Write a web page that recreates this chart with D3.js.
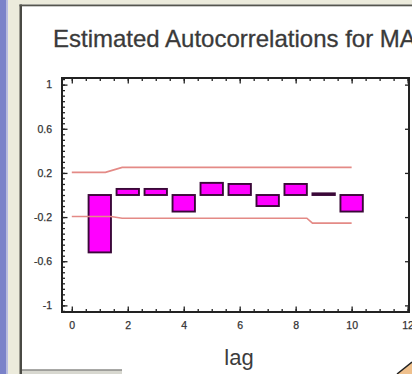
<!DOCTYPE html>
<html>
<head>
<meta charset="utf-8">
<script src="https://cdn.jsdelivr.net/npm/d3@7"></script>
<style>
  html, body { margin: 0; padding: 0; background: #ffffff; overflow: hidden; }
  svg { display: block; }
</style>
</head>
<body>
<svg id="chart" width="412" height="374"></svg>
<script>
// ---- data ----
const titleText = "Estimated Autocorrelations for MA";
const xAxisTitle = "lag";
const lags = [1, 2, 3, 4, 5, 6, 7, 8, 9, 10];
const acf = [-0.52, 0.055, 0.055, -0.15, 0.11, 0.10, -0.10, 0.10, 0.015, -0.15];
const upperLags = [0, 1.2, 1.8, 10];
const upperLimit = [0.205, 0.205, 0.25, 0.25];
const lowerLags = [0, 1.4, 1.8, 8.4, 8.6, 10];
const lowerLimit = [-0.195, -0.195, -0.21, -0.21, -0.255, -0.255];
const yTickValues = [1, 0.6, 0.2, -0.2, -0.6, -1];
const yTickLabels = ["1", "0.6", "0.2", "-0.2", "-0.6", "-1"];
const xTickValues = [0, 2, 4, 6, 8, 10, 12];
const xTickLabels = ["0", "2", "4", "6", "8", "10", "12"];

// ---- layout ----
const svg = d3.select("#chart");
const W = 412, H = 374;
const plot = { left: 62, right: 409, top: 78, bottom: 312 };

const x = d3.scaleLinear().domain([-0.35, 12.05]).range([plot.left, plot.right]);
const y = d3.scaleLinear().domain([-1.06, 1.06]).range([plot.bottom, plot.top]);

// window chrome (screenshot frame)
svg.append("rect").attr("x", 0).attr("y", 0).attr("width", W).attr("height", H).attr("fill", "#ffffff");
svg.append("rect").attr("x", 0).attr("y", 0).attr("width", W).attr("height", 4.5).attr("fill", "#ecebdc");
svg.append("rect").attr("x", 0).attr("y", 0).attr("width", 20).attr("height", H).attr("fill", "#ecebdc");
svg.append("rect").attr("x", 0).attr("y", 0).attr("width", 6.5).attr("height", H).attr("fill", "#7a82c9");
svg.append("rect").attr("x", 6.5).attr("y", 0).attr("width", 1.5).attr("height", H).attr("fill", "#b9bde3");
svg.append("rect").attr("x", 19.5).attr("y", 4.5).attr("width", 2.5).attr("height", H).attr("fill", "#4a4a44");
svg.append("rect").attr("x", 19.5).attr("y", 4.5).attr("width", W).attr("height", 1.8).attr("fill", "#55554e");
svg.append("rect").attr("x", 22).attr("y", 369.5).attr("width", 100).attr("height", 5).attr("fill", "#d8d8d0");
svg.append("line").attr("x1", 22).attr("x2", 122).attr("y1", 370).attr("y2", 370).attr("stroke", "#666").attr("stroke-width", 1.2);
svg.append("polygon").attr("points", "397,374 412,362 412,374").attr("fill", "#efc08c");
svg.append("line").attr("x1", 397).attr("y1", 374).attr("x2", 412).attr("y2", 362).attr("stroke", "#222").attr("stroke-width", 1.5);

// title
svg.append("text")
  .attr("x", 53).attr("y", 47)
  .attr("font-family", "Liberation Sans, Arial, sans-serif")
  .attr("font-size", 24)
  .attr("fill", "#3a3a3a")
  .attr("stroke", "#3a3a3a").attr("stroke-width", 0.3)
  .text(titleText);

// bars
svg.append("g").selectAll("rect")
  .data(lags.map((l, i) => ({ lag: l, v: acf[i] })))
  .join("rect")
  .attr("x", d => x(d.lag - 0.4))
  .attr("width", d => x(d.lag + 0.4) - x(d.lag - 0.4))
  .attr("y", d => y(Math.max(0, d.v)))
  .attr("height", d => Math.max(1, Math.abs(y(d.v) - y(0))))
  .attr("fill", "#ff00ff")
  .attr("stroke", "#3a0838")
  .attr("stroke-width", 1.9);

// probability limits
const line = d3.line().x(d => x(d[0])).y(d => y(d[1]));
svg.append("path")
  .datum(upperLags.map((l, i) => [l, upperLimit[i]]))
  .attr("d", line).attr("fill", "none")
  .attr("stroke", "#e48a86").attr("stroke-width", 1.6);
svg.append("path")
  .datum(lowerLags.map((l, i) => [l, lowerLimit[i]]))
  .attr("d", line).attr("fill", "none")
  .attr("stroke", "#e48a86").attr("stroke-width", 1.6);

// axes: minor + major ticks, pointing inward
const yMinor = d3.range(-1.05, 1.0501, 0.05).map(v => +v.toFixed(2));
const xMinor = d3.range(0, 12.001, 0.5);
const axisColor = "#222";

function styleAxis(g) {
  g.select(".domain").remove();
  g.selectAll("line").attr("stroke", axisColor).attr("stroke-width", 1.3);
}

svg.append("g").attr("transform", `translate(${plot.left},0)`)
  .call(d3.axisLeft(y).tickValues(yMinor).tickSize(-3).tickFormat(""))
  .call(styleAxis);
svg.append("g").attr("transform", `translate(${plot.left},0)`)
  .call(d3.axisLeft(y).tickValues(yTickValues).tickSize(-5.5).tickFormat(""))
  .call(styleAxis);
svg.append("g").attr("transform", `translate(${plot.right},0)`)
  .call(d3.axisRight(y).tickValues(yTickValues).tickSize(-4).tickFormat(""))
  .call(styleAxis);
svg.append("g").attr("transform", `translate(0,${plot.bottom})`)
  .call(d3.axisBottom(x).tickValues(xMinor).tickSize(-3).tickFormat(""))
  .call(styleAxis);
svg.append("g").attr("transform", `translate(0,${plot.bottom})`)
  .call(d3.axisBottom(x).tickValues(xTickValues).tickSize(-5.5).tickFormat(""))
  .call(styleAxis);
svg.append("g").attr("transform", `translate(0,${plot.top})`)
  .call(d3.axisTop(x).tickValues(xMinor).tickSize(-3).tickFormat(""))
  .call(styleAxis);
svg.append("g").attr("transform", `translate(0,${plot.top})`)
  .call(d3.axisTop(x).tickValues(xTickValues).tickSize(-5.5).tickFormat(""))
  .call(styleAxis);

// frame
svg.append("rect")
  .attr("x", plot.left).attr("y", plot.top)
  .attr("width", plot.right - plot.left).attr("height", plot.bottom - plot.top)
  .attr("fill", "none").attr("stroke", axisColor).attr("stroke-width", 2);

// tick labels
const yLab = d3.axisLeft(y).tickValues(yTickValues).tickSize(0).tickPadding(10)
  .tickFormat((d, i) => yTickLabels[i]);
svg.append("g").attr("transform", `translate(${plot.left},0)`)
  .call(yLab)
  .call(g => g.select(".domain").remove())
  .call(g => g.selectAll("text")
    .attr("font-family", "Liberation Sans, Arial, sans-serif")
    .attr("font-size", 10.5).attr("fill", "#333")
    .attr("stroke", "#333").attr("stroke-width", 0.25));

const xLab = d3.axisBottom(x).tickValues(xTickValues).tickSize(0).tickPadding(10)
  .tickFormat((d, i) => xTickLabels[i]);
svg.append("g").attr("transform", `translate(0,${plot.bottom})`)
  .call(xLab)
  .call(g => g.select(".domain").remove())
  .call(g => g.selectAll("text")
    .attr("font-family", "Liberation Sans, Arial, sans-serif")
    .attr("font-size", 10.5).attr("fill", "#333")
    .attr("stroke", "#333").attr("stroke-width", 0.25));

// x-axis title
svg.append("text")
  .attr("x", 239).attr("y", 365)
  .attr("text-anchor", "middle")
  .attr("font-family", "Liberation Sans, Arial, sans-serif")
  .attr("font-size", 22)
  .attr("fill", "#3c3c3c")
  .text(xAxisTitle);
</script>
</body>
</html>
